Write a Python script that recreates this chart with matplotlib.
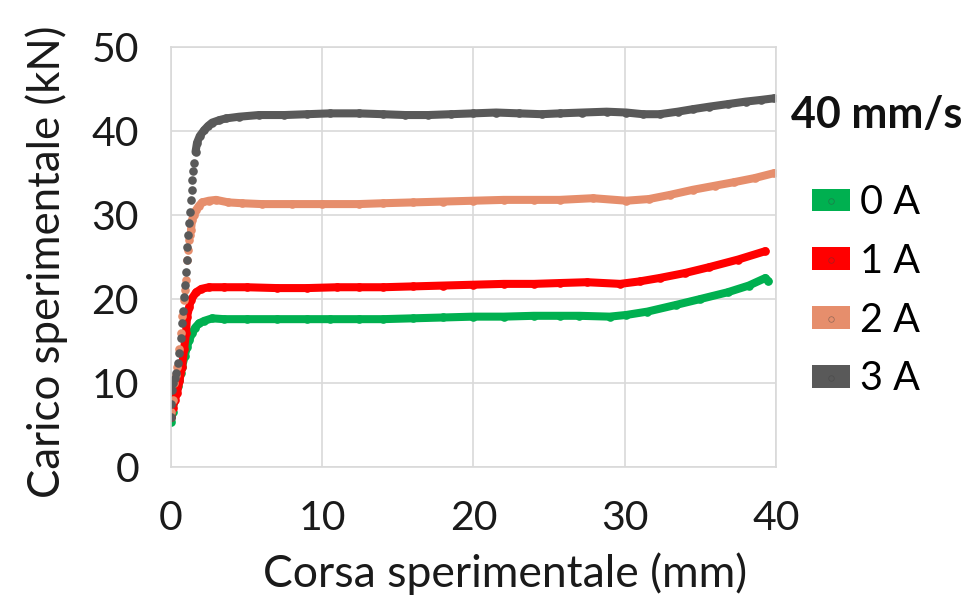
import matplotlib
matplotlib.use('Agg')
import matplotlib.pyplot as plt
from matplotlib.patches import Patch
from matplotlib.lines import Line2D

plt.rcParams['font.family'] = ['Lato', 'DejaVu Sans']

# Prove a 40 mm/s, corrente 0-3 A
x_0A = [0.0, 0.1, 0.2, 0.33, 0.43, 0.53, 0.63, 0.73, 0.9, 1.06, 1.2, 1.39, 1.6, 1.85, 2.2, 2.72,
        3.5, 5.0, 7.0, 9.0, 10.5, 12.4, 14.0, 16.0, 18.0, 20.0, 22.0, 24.0, 25.7, 27.0, 29.0,
        30.1, 31.5, 33.4, 35.0, 36.8, 38.2, 39.3, 39.5]
y_0A = [5.3, 6.5, 7.8, 8.8, 9.6, 10.4, 11.2, 11.9, 13.2, 14.3, 15.1, 15.9, 16.6, 17.1, 17.4, 17.7,
        17.6, 17.6, 17.6, 17.6, 17.6, 17.6, 17.6, 17.7, 17.8, 17.9, 17.9, 18.0, 18.0, 18.0, 17.9,
        18.1, 18.5, 19.3, 20.0, 20.8, 21.6, 22.5, 22.1]

x_1A = [0.0, 0.1, 0.25, 0.4, 0.55, 0.73, 0.86, 0.99, 1.06, 1.2, 1.32, 1.66, 2.0, 2.5, 3.5, 5.0,
        7.0, 9.0, 11.0, 12.4, 14.0, 16.0, 18.0, 20.0, 22.0, 24.0, 25.7, 27.5, 29.7, 31.0, 32.3,
        34.0, 35.6, 37.5, 39.3]
y_1A = [6.0, 7.0, 8.0, 8.8, 10.2, 11.9, 14.0, 15.9, 17.9, 19.0, 19.9, 20.8, 21.2, 21.4, 21.4, 21.4,
        21.3, 21.3, 21.4, 21.4, 21.4, 21.5, 21.6, 21.7, 21.8, 21.8, 21.9, 22.0, 21.8, 22.1, 22.5,
        23.1, 23.8, 24.7, 25.7]

x_2A = [0.0, 0.1, 0.2, 0.3, 0.4, 0.53, 0.66, 0.76, 0.86, 0.93, 0.99, 1.06, 1.12, 1.19, 1.26, 1.32,
        1.39, 1.5, 1.66, 1.85, 2.05, 2.5, 2.98, 3.8, 4.7, 6.0, 8.0, 10.0, 12.4, 14.0, 16.0, 18.0,
        20.0, 22.0, 24.0, 25.7, 27.9, 30.1, 31.6, 33.0, 34.5, 36.0, 37.2, 38.6, 39.9]
y_2A = [6.5, 8.0, 10.0, 11.0, 11.9, 14.0, 16.0, 18.0, 19.9, 21.1, 22.3, 24.6, 25.8, 27.0, 27.6, 28.2,
        29.4, 30.0, 30.6, 31.1, 31.5, 31.7, 31.8, 31.5, 31.4, 31.3, 31.3, 31.3, 31.3, 31.4, 31.5, 31.6,
        31.7, 31.8, 31.8, 31.8, 32.0, 31.7, 31.9, 32.4, 33.0, 33.5, 33.9, 34.4, 35.0]

x_3A = [0.0, 0.03, 0.07, 0.15, 0.25, 0.33, 0.43, 0.53, 0.63, 0.73, 0.8, 0.86, 0.92, 0.99, 1.03, 1.06,
        1.12, 1.19, 1.26, 1.32, 1.36, 1.39, 1.45, 1.52, 1.62, 1.72, 1.9, 2.19, 2.45, 2.72, 3.2, 3.64,
        4.5, 5.8, 7.5, 9.0, 10.5, 12.4, 14.0, 15.5, 17.0, 18.5, 20.0, 21.5, 23.0, 24.5, 25.7, 27.2,
        28.8, 30.1, 31.2, 32.3, 33.5, 34.5, 35.6, 36.8, 38.0, 39.0, 39.9]
y_3A = [6.0, 7.5, 9.2, 10.0, 10.6, 11.2, 12.4, 13.6, 15.3, 17.1, 18.6, 20.2, 21.7, 23.2, 24.7, 26.2,
        27.6, 29.0, 30.4, 31.8, 33.0, 34.2, 35.2, 36.2, 37.5, 38.6, 39.4, 40.1, 40.6, 41.0, 41.3, 41.5,
        41.7, 41.9, 41.9, 42.0, 42.1, 42.1, 42.0, 41.9, 41.9, 42.0, 42.1, 42.2, 42.1, 42.0, 42.1, 42.2,
        42.3, 42.2, 42.0, 42.0, 42.3, 42.6, 42.9, 43.2, 43.5, 43.7, 43.9]

labels = ['0 A', '1 A', '2 A', '3 A']
colors = ['#00B050', '#FF0000', '#E68E6C', '#595959']
xs = [x_0A, x_1A, x_2A, x_3A]
ys = [y_0A, y_1A, y_2A, y_3A]
# corsa da cui i punti sono abbastanza fitti da apparire come linea continua
x_solid = [0.0, 0.0, 1.3, 1.6]

fig = plt.figure(figsize=(9.76, 5.99), dpi=100)
ax = fig.add_axes([171/976, 1 - 467/599, 605/976, 420/599])

for x, y, c, xs0 in zip(xs, ys, colors, x_solid):
    ax.plot(x, y, 'o', color=c, ms=6.2, mew=0)
    xl = [a for a in x if a >= xs0]
    yl = [b for a, b in zip(x, y) if a >= xs0]
    ax.plot(xl, yl, '-', color=c, lw=5.8, solid_capstyle='round', solid_joinstyle='round')

ax.set_xlim(0, 40)
ax.set_ylim(0, 50)
ax.set_xticks([0, 10, 20, 30, 40])
ax.set_yticks([0, 10, 20, 30, 40, 50])
ax.grid(True, color='#D9D9D9', lw=1.2)
ax.set_axisbelow(True)
for s in ax.spines.values():
    s.set_color('#D9D9D9')
    s.set_linewidth(1.2)
ax.tick_params(length=0, labelsize=29.5, colors='#1a1a1a')
ax.tick_params(axis='x', pad=24)
ax.tick_params(axis='y', pad=23)

fig.text(505/976, 1 - 574/599, 'Corsa sperimentale (mm)', ha='center', va='center',
         fontsize=32, color='#1a1a1a')
fig.text(47/976, 1 - 262/599, 'Carico sperimentale (kN)', ha='center', va='center',
         rotation=90, fontsize=31.5, color='#1a1a1a')
fig.text(877/976, 1 - 115/599, '40 mm/s', ha='center', va='center',
         fontsize=31, fontweight='bold', color='#111111')

handles = []
for c in colors:
    handles.append((Patch(facecolor=c, edgecolor='none'),
                    Line2D([], [], marker='o', ls='none', mfc='none', mec='#404040',
                           mew=0.5, ms=4, alpha=0.5)))
fig.legend(handles, labels, loc='upper left', bbox_to_anchor=(812/976, 1 - 184/599),
           frameon=False, fontsize=28.5, handlelength=0.95, handleheight=0.5,
           handletextpad=0.25, labelspacing=0.55, borderpad=0, borderaxespad=0)

fig.savefig('out.png', dpi=100)
